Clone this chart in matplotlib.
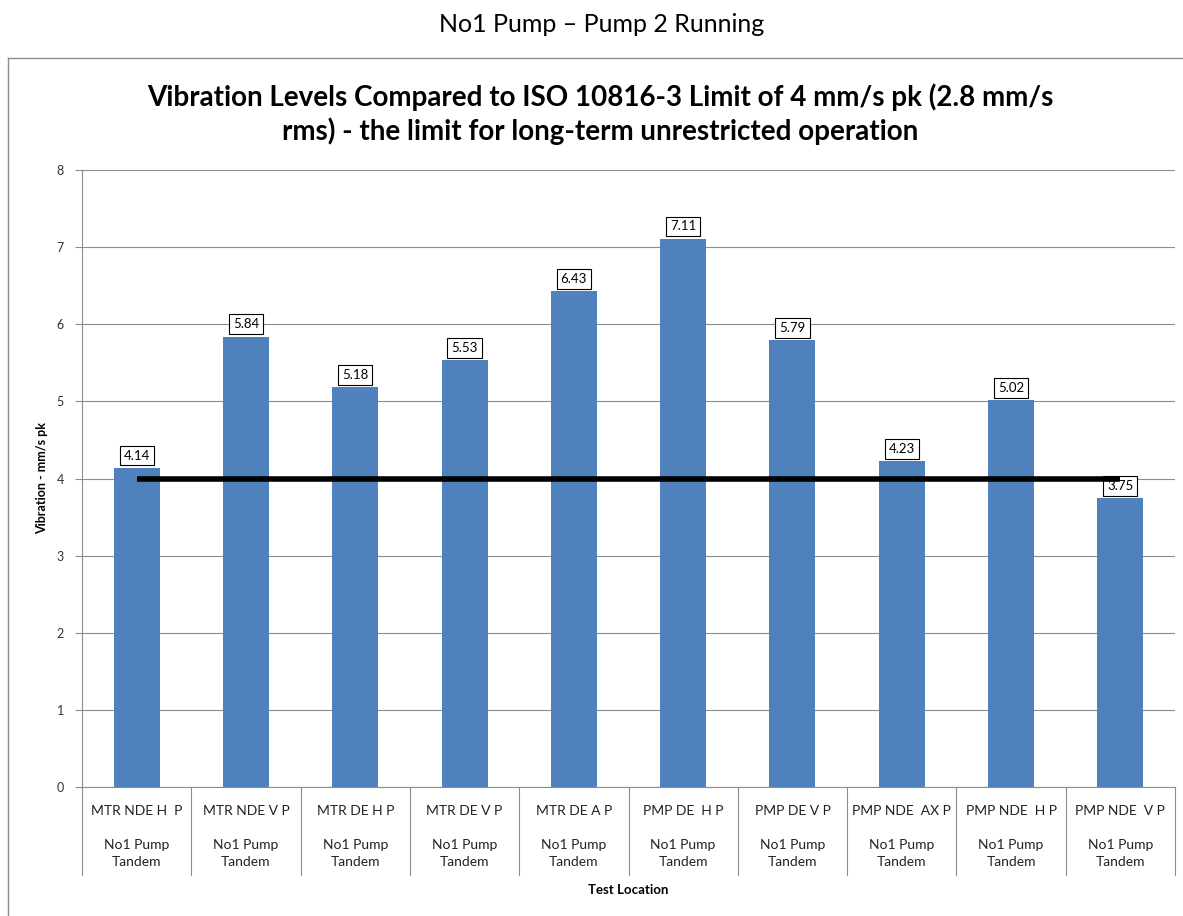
import matplotlib.pyplot as plt
from matplotlib.lines import Line2D

plt.rcParams['font.family'] = ['Lato', 'DejaVu Sans']

locations = ["MTR NDE H  P", "MTR NDE V P", "MTR DE H P", "MTR DE V P", "MTR DE A P",
             "PMP DE  H P", "PMP DE V P", "PMP NDE  AX P", "PMP NDE  H P", "PMP NDE  V P"]
machine = "No1 Pump\nTandem"
vibration = [4.14, 5.84, 5.18, 5.53, 6.43, 7.11, 5.79, 4.23, 5.02, 3.75]
iso_limit = 4.0

W, H = 1183, 916
fig = plt.figure(figsize=(W / 100, H / 100), dpi=100)
ax = fig.add_axes([82 / W, 1 - 787 / H, (1175 - 82) / W, (787 - 170) / H])

x = list(range(len(vibration)))
ax.bar(x, vibration, width=0.42, color="#4F81BD", zorder=2)
ax.plot([x[0], x[-1]], [iso_limit] * 2, color="black", lw=4, zorder=4, solid_capstyle="butt")

for xi, v in zip(x, vibration):
    ax.text(xi, v + 0.08, "%.2f" % v, ha="center", va="bottom", fontsize=9.5, zorder=3,
            bbox=dict(boxstyle="square,pad=0.3", fc="white", ec="black", lw=0.8))

ax.set_xlim(-0.5, len(vibration) - 0.5)
ax.set_ylim(0, 8)
ax.set_yticks(range(0, 9))
ax.yaxis.grid(True, color="#8c8c8c", lw=0.8, zorder=0)
ax.set_axisbelow(True)
ax.tick_params(axis="y", direction="out", length=5, color="#8c8c8c", labelsize=9, pad=8,
               labelcolor="#333333")
ax.set_xticks([])
for s in ["top", "right"]:
    ax.spines[s].set_visible(False)
for s in ["left", "bottom"]:
    ax.spines[s].set_color("#8c8c8c")

# two-level category labels
tr = ax.get_xaxis_transform()
for xi, lab in zip(x, locations):
    ax.text(xi, -0.039, lab, transform=tr, ha="center", va="center", fontsize=10, color="#222222")
    ax.text(xi, -0.108, machine, transform=tr, ha="center", va="center", fontsize=10,
            linespacing=1.55, color="#222222")
for b in range(len(vibration) + 1):
    ax.plot([b - 0.5, b - 0.5], [0, -0.143], transform=tr, color="#8c8c8c", lw=0.8, clip_on=False)

ax.text(0.5, -0.167, "Test Location", transform=ax.transAxes, ha="center", va="center",
        fontsize=9.5, fontweight="bold")
ax.set_ylabel("Vibration - mm/s pk", fontsize=9, fontweight="bold", labelpad=6)

fig.text(600 / W, 1 - 114 / H,
         "Vibration Levels Compared to ISO 10816-3 Limit of 4 mm/s pk (2.8 mm/s\n"
         "rms) - the limit for long-term unrestricted operation",
         ha="center", va="center", fontsize=20, fontweight="bold", linespacing=1.3)

fig.text(602 / W, 1 - 25 / H, "No1 Pump \u2013 Pump 2 Running", ha="center", va="center", fontsize=18)

# chart frame
fig.add_artist(Line2D([8 / W, 8 / W], [0, 1 - 58 / H], transform=fig.transFigure, color="#8c8c8c", lw=1))
fig.add_artist(Line2D([8 / W, 1], [1 - 58 / H, 1 - 58 / H], transform=fig.transFigure, color="#8c8c8c", lw=1))

fig.savefig("out.png", dpi=100)
